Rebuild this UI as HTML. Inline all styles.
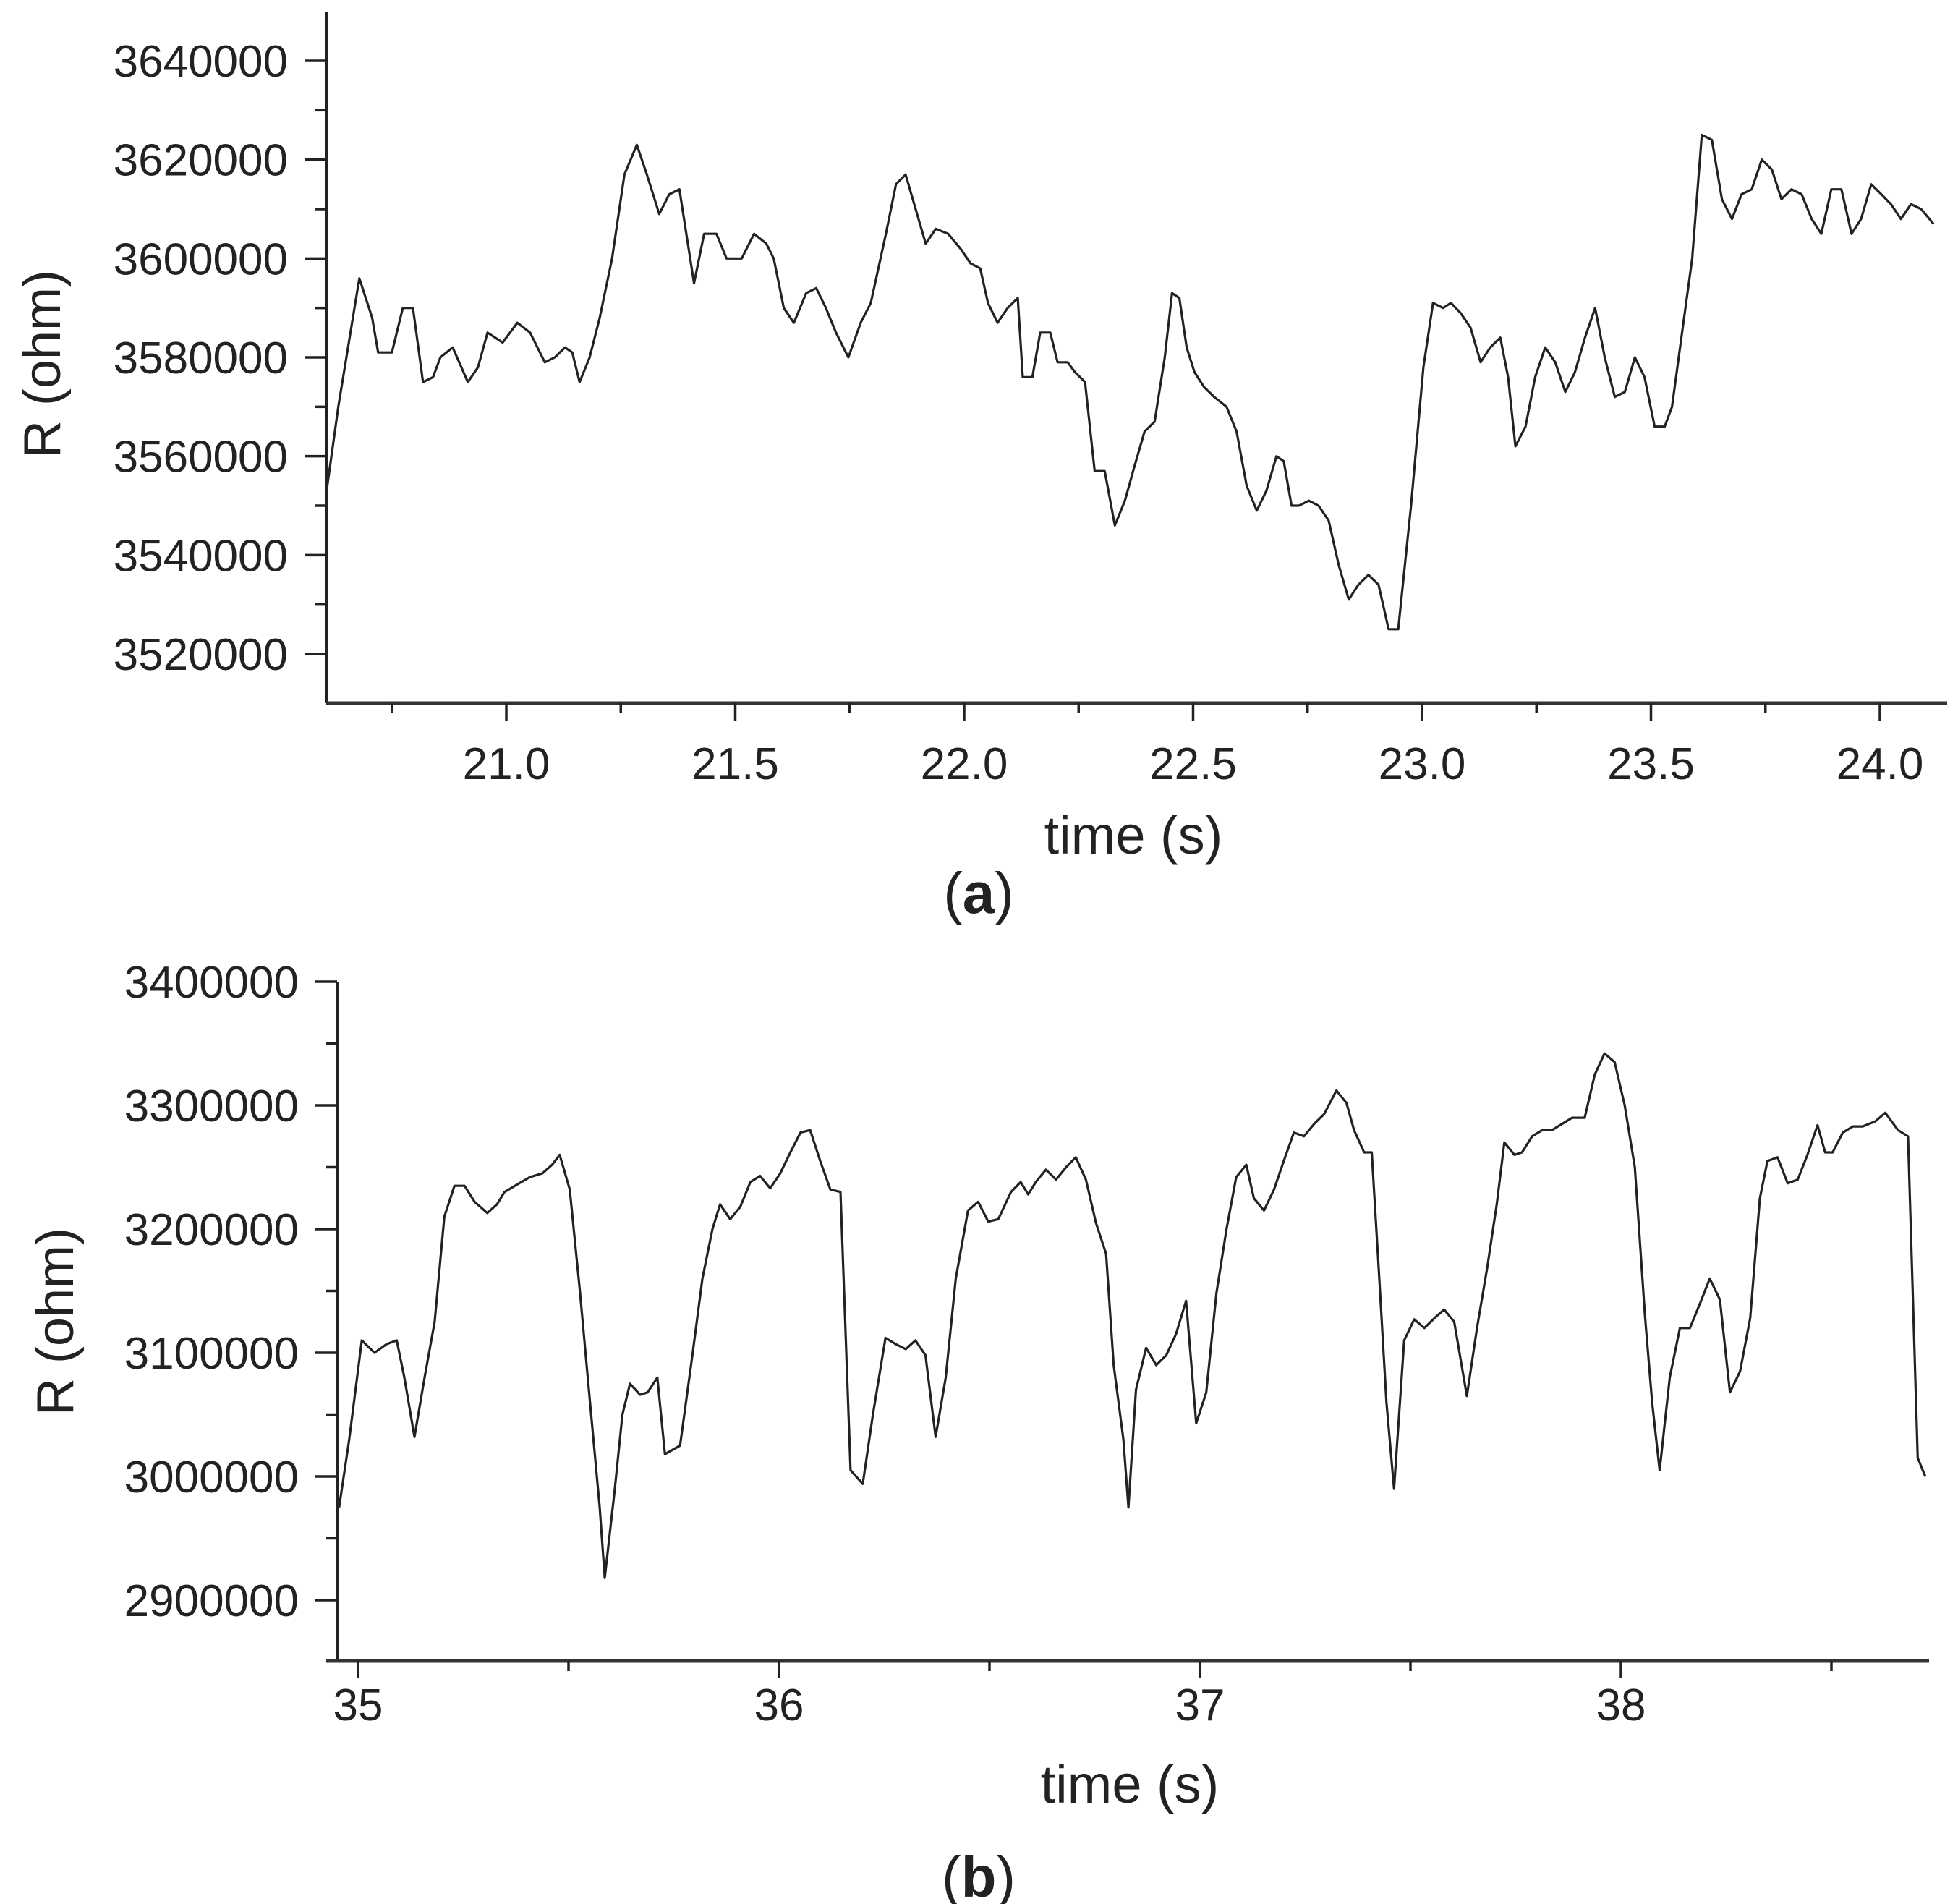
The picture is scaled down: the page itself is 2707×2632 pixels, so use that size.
<!DOCTYPE html>
<html><head><meta charset="utf-8"><style>
html,body{margin:0;padding:0;background:#fff}
svg{display:block}
text{font-family:"Liberation Sans",Arial,sans-serif;fill:#222}
</style></head><body>
<svg id="fig" width="2707" height="2632" viewBox="0 0 2707 2632" xmlns="http://www.w3.org/2000/svg">
<g id="pa"></g>
<g id="pb"></g>
<text x="1353" y="1262" text-anchor="middle" font-family="Liberation Serif" font-size="80">(<tspan font-weight="bold">a</tspan>)</text>
<text x="1353" y="2622" text-anchor="middle" font-family="Liberation Serif" font-size="80">(<tspan font-weight="bold">b</tspan>)</text>
</svg>
<script>
const timeA=[20.606,20.633,20.679,20.707,20.720,20.750,20.774,20.796,20.818,20.840,20.856,20.883,20.916,20.938,20.959,20.992,21.024,21.052,21.084,21.106,21.128,21.144,21.160,21.182,21.204,21.231,21.258,21.285,21.307,21.334,21.356,21.378,21.410,21.432,21.459,21.481,21.514,21.541,21.568,21.584,21.606,21.628,21.655,21.677,21.698,21.720,21.747,21.774,21.796,21.829,21.851,21.872,21.894,21.916,21.938,21.965,21.992,22.014,22.035,22.052,22.073,22.095,22.117,22.128,22.149,22.166,22.188,22.204,22.226,22.242,22.264,22.285,22.307,22.329,22.351,22.372,22.394,22.416,22.438,22.454,22.470,22.486,22.503,22.524,22.546,22.573,22.595,22.617,22.639,22.660,22.682,22.698,22.715,22.731,22.753,22.774,22.796,22.818,22.840,22.861,22.883,22.905,22.927,22.948,22.976,23.003,23.024,23.046,23.063,23.084,23.106,23.128,23.149,23.171,23.188,23.204,23.226,23.247,23.269,23.291,23.313,23.334,23.356,23.378,23.399,23.421,23.443,23.465,23.486,23.508,23.530,23.546,23.568,23.590,23.611,23.633,23.655,23.677,23.698,23.720,23.742,23.764,23.785,23.807,23.829,23.851,23.872,23.894,23.916,23.938,23.959,23.981,24.003,24.024,24.046,24.068,24.090,24.117];
const resA=[3552,3570,3596,3588,3581,3581,3590,3590,3575,3576,3580,3582,3575,3578,3585,3583,3587,3585,3579,3580,3582,3581,3575,3580,3588,3600,3617,3623,3617,3609,3613,3614,3595,3605,3605,3600,3600,3605,3603,3600,3590,3587,3593,3594,3590,3585,3580,3587,3591,3605,3615,3617,3610,3603,3606,3605,3602,3599,3598,3591,3587,3590,3592,3576,3576,3585,3585,3579,3579,3577,3575,3557,3557,3546,3551,3558,3565,3567,3580,3593,3592,3582,3577,3574,3572,3570,3565,3554,3549,3553,3560,3559,3550,3550,3551,3550,3547,3538,3531,3534,3536,3534,3525,3525,3550,3578,3591,3590,3591,3589,3586,3579,3582,3584,3576,3562,3566,3576,3582,3579,3573,3577,3584,3590,3580,3572,3573,3580,3576,3566,3566,3570,3585,3600,3625,3624,3612,3608,3613,3614,3620,3618,3612,3614,3613,3608,3605,3614,3614,3605,3608,3615,3613,3611,3608,3611,3610,3607];
const yTicksA=[3520000,3540000,3560000,3580000,3600000,3620000,3640000];
const xTicksA=[21.0,21.5,22.0,22.5,23.0,23.5,24.0];

const timeB=[34.955,34.979,35.009,35.039,35.068,35.092,35.110,35.134,35.158,35.182,35.205,35.229,35.253,35.277,35.307,35.330,35.348,35.378,35.408,35.438,35.461,35.479,35.503,35.527,35.551,35.574,35.586,35.610,35.628,35.646,35.670,35.688,35.711,35.729,35.765,35.795,35.818,35.842,35.860,35.884,35.908,35.932,35.955,35.979,36.003,36.027,36.051,36.074,36.098,36.122,36.146,36.170,36.199,36.223,36.253,36.277,36.301,36.324,36.348,36.372,36.396,36.420,36.449,36.473,36.497,36.521,36.551,36.574,36.592,36.610,36.634,36.658,36.682,36.705,36.729,36.753,36.777,36.795,36.818,36.830,36.848,36.872,36.896,36.920,36.943,36.967,36.991,37.015,37.039,37.063,37.086,37.110,37.128,37.152,37.176,37.199,37.223,37.247,37.271,37.295,37.324,37.348,37.366,37.390,37.408,37.426,37.443,37.461,37.485,37.509,37.533,37.557,37.580,37.604,37.634,37.658,37.682,37.705,37.723,37.747,37.765,37.789,37.813,37.836,37.860,37.884,37.914,37.938,37.961,37.985,38.009,38.033,38.057,38.074,38.092,38.116,38.140,38.164,38.188,38.211,38.235,38.259,38.283,38.307,38.330,38.348,38.372,38.396,38.420,38.443,38.467,38.485,38.503,38.527,38.551,38.574,38.604,38.628,38.658,38.682,38.705,38.723];
const resB=[2975,3030,3110,3100,3107,3110,3080,3032,3080,3125,3210,3235,3235,3222,3213,3220,3230,3236,3242,3245,3252,3260,3232,3150,3060,2975,2918,2990,3050,3075,3066,3068,3080,3018,3025,3100,3160,3200,3220,3208,3218,3238,3243,3233,3245,3262,3278,3280,3255,3232,3230,3005,2994,3050,3112,3107,3103,3110,3098,3032,3080,3160,3215,3222,3206,3208,3230,3238,3228,3238,3248,3240,3250,3258,3240,3205,3180,3090,3030,2975,3070,3104,3090,3098,3115,3142,3043,3068,3148,3200,3242,3252,3225,3215,3232,3255,3278,3275,3285,3293,3312,3302,3280,3262,3262,3160,3060,2990,3110,3127,3120,3128,3135,3125,3065,3120,3168,3220,3270,3260,3262,3275,3280,3280,3285,3290,3290,3325,3342,3335,3300,3250,3130,3060,3005,3080,3120,3120,3140,3160,3143,3068,3085,3128,3225,3255,3258,3237,3240,3260,3284,3262,3262,3278,3283,3283,3287,3294,3280,3275,3015,3000];
const yTicksB=[2900000,3000000,3100000,3200000,3300000,3400000];
const xTicksB=[35,36,37,38];

const NS='http://www.w3.org/2000/svg';
function mk(tag,attrs,parent){const e=document.createElementNS(NS,tag);for(const k in attrs)e.setAttribute(k,attrs[k]);parent.appendChild(e);return e;}

function panel(g,cfg){
  const sx=t=>cfg.x0+(t-cfg.t0)*cfg.pxT;
  const sy=v=>cfg.yRef+(cfg.vRef-v)*cfg.pxV;
  const ya=mk('line',{x1:cfg.axX,y1:cfg.axTop,x2:cfg.axX,y2:cfg.axBot,stroke:'#222','stroke-width':4},g);
  
  
  const xa=mk('line',{x1:cfg.axX-cfg.over,y1:cfg.axBot,x2:cfg.axRight,y2:cfg.axBot,stroke:'#333','stroke-width':5},g);
  
  
  const yt=cfg.yTicks;const step=yt[1]-yt[0];
  for(let i=0;i<yt.length;i++){
    const y=sy(yt[i]);
    const t=mk('line',{x1:cfg.axX-30,y1:y,x2:cfg.axX,y2:y,stroke:'#222','stroke-width':3.5},g);
    
    
    const lb=mk('text',{x:cfg.labR,y:y+22,'text-anchor':'end','font-size':62},g);
    lb.textContent=String(yt[i]);
    
    
    for(const m of [yt[i]-step/2, yt[i]+step/2]){
      const my=sy(m);
      if(my<cfg.axTop-1||my>cfg.axBot-5) continue;
      if(i>0&&m===yt[i]-step/2) continue;
      const mt=mk('line',{x1:cfg.axX-15,y1:my,x2:cfg.axX,y2:my,stroke:'#222','stroke-width':3.5},g);
      
      
    }
  }
  const xt=cfg.xTicks;const xs=xt[1]-xt[0];
  for(let i=0;i<xt.length;i++){
    const x=sx(xt[i]);
    const t=mk('line',{x1:x,y1:cfg.axBot,x2:x,y2:cfg.axBot+24,stroke:'#222','stroke-width':3.5},g);
    
    
    const lb=mk('text',{x:x,y:cfg.xLabY,'text-anchor':'middle','font-size':62},g);
    lb.textContent=cfg.fmt(xt[i]);
    
    
  }
  for(let v=xt[0]-xs/2; v<cfg.tMax; v+=xs){
    const x=sx(v);
    if(x<cfg.axX+2||x>cfg.axRight) continue;
    const mt=mk('line',{x1:x,y1:cfg.axBot,x2:x,y2:cfg.axBot+14,stroke:'#222','stroke-width':3.5},g);
    
    
  }
  const pts=cfg.time.map((t,i)=>sx(t).toFixed(1)+','+sy(cfg.vals[i]*1000).toFixed(1)).join(' ');
  const pl=mk('polyline',{points:pts,fill:'none',stroke:'#222','stroke-width':3.2,'stroke-linejoin':'round'},g);
  
  
  const xtl=mk('text',{x:cfg.xTitleX,y:cfg.xTitleY,'text-anchor':'middle','font-size':74},g);
  xtl.textContent='time (s)';
  
  
  const ytl=mk('text',{x:0,y:0,'text-anchor':'middle','font-size':72,transform:'translate('+(cfg.yTitleX+26)+','+cfg.yTitleY+') rotate(-90)'},g);
  ytl.textContent='R (ohm)';
  
  
}

panel(document.getElementById('pa'),{
  time:timeA,vals:resA,yTicks:yTicksA,xTicks:xTicksA,
  t0:21.0,x0:700,pxT:633,tMax:24.146,
  vRef:3640000,yRef:84,pxV:820/120000,
  axX:451,axTop:17,axBot:972,axRight:2692,over:0,
  labR:398,xLabY:1077,xTitleX:1567,xTitleY:1180,yTitleX:57,yTitleY:503,
  fmt:v=>v.toFixed(1)
});
panel(document.getElementById('pb'),{
  time:timeB,vals:resB,yTicks:yTicksB,xTicks:xTicksB,
  t0:35,x0:495,pxT:582,tMax:38.73,
  vRef:3400000,yRef:1357,pxV:855/500000,
  axX:466,axTop:1357,axBot:2296,axRight:2667,over:15,
  labR:413,xLabY:2378,xTitleX:1562,xTitleY:2492,yTitleX:75,yTitleY:1827,
  fmt:v=>String(v)
});
</script>
</body></html>
